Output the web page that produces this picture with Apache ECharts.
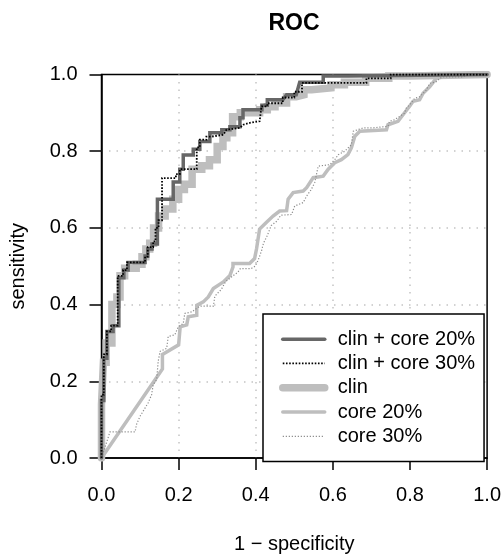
<!DOCTYPE html>
<html>
<head>
<meta charset="utf-8">
<script src="https://cdn.jsdelivr.net/npm/echarts@6/dist/echarts.min.js"></script>
<style>html,body{margin:0;padding:0;background:#fff}#c{width:504px;height:559px}</style>
</head>
<body>
<div id="c"></div>
<script>
var seriesNames = ['clin + core 20%', 'clin + core 30%', 'clin', 'core 20%', 'core 30%'];
var tickLabels = ['0.0', '0.2', '0.4', '0.6', '0.8', '1.0'];

// [1 - specificity, sensitivity] vertices
var clinCore20 = [[0,0],[0,0.15],[0.006,0.15],[0.006,0.26],[0.014,0.26],[0.014,0.33],[0.03,0.33],[0.03,0.345],[0.045,0.345],[0.045,0.47],[0.058,0.47],[0.058,0.49],[0.069,0.49],[0.069,0.51],[0.113,0.51],[0.113,0.527],[0.12,0.527],[0.12,0.545],[0.131,0.545],[0.131,0.558],[0.145,0.558],[0.145,0.675],[0.186,0.675],[0.186,0.72],[0.203,0.72],[0.203,0.753],[0.212,0.753],[0.212,0.79],[0.238,0.79],[0.238,0.805],[0.255,0.805],[0.255,0.825],[0.281,0.825],[0.281,0.848],[0.312,0.848],[0.312,0.856],[0.333,0.856],[0.333,0.864],[0.359,0.864],[0.359,0.887],[0.367,0.887],[0.367,0.908],[0.416,0.908],[0.416,0.92],[0.43,0.92],[0.43,0.934],[0.47,0.934],[0.48,0.947],[0.505,0.947],[0.514,0.98],[0.575,0.98],[0.575,0.996],[0.64,0.996],[0.64,1],[1,1]];

var clinCore30 = [[0,0],[0,0.165],[0.006,0.165],[0.006,0.27],[0.014,0.27],[0.014,0.33],[0.025,0.33],[0.025,0.345],[0.042,0.345],[0.042,0.475],[0.056,0.475],[0.056,0.49],[0.066,0.49],[0.066,0.51],[0.113,0.51],[0.113,0.525],[0.12,0.525],[0.12,0.55],[0.134,0.55],[0.134,0.565],[0.14,0.565],[0.14,0.6],[0.148,0.6],[0.148,0.62],[0.157,0.62],[0.157,0.73],[0.193,0.73],[0.193,0.74],[0.203,0.74],[0.203,0.753],[0.247,0.753],[0.247,0.81],[0.255,0.81],[0.255,0.83],[0.272,0.83],[0.272,0.838],[0.285,0.838],[0.285,0.843],[0.316,0.843],[0.324,0.856],[0.359,0.861],[0.367,0.869],[0.385,0.874],[0.41,0.878],[0.415,0.878],[0.415,0.917],[0.43,0.917],[0.43,0.925],[0.47,0.925],[0.47,0.94],[0.5,0.94],[0.5,0.955],[0.52,0.955],[0.52,0.978],[0.687,0.978],[0.687,0.99],[0.75,0.99],[0.75,1],[1,1]];

var clin = [[0,0],[0,0.14],[0.005,0.14],[0.005,0.25],[0.012,0.25],[0.012,0.3],[0.027,0.3],[0.027,0.4],[0.04,0.4],[0.04,0.42],[0.048,0.42],[0.048,0.475],[0.06,0.475],[0.06,0.495],[0.09,0.495],[0.09,0.505],[0.105,0.505],[0.105,0.525],[0.115,0.525],[0.115,0.545],[0.125,0.545],[0.125,0.56],[0.135,0.56],[0.135,0.6],[0.148,0.6],[0.148,0.631],[0.165,0.631],[0.165,0.649],[0.185,0.649],[0.185,0.675],[0.2,0.675],[0.2,0.7],[0.215,0.7],[0.215,0.714],[0.235,0.714],[0.235,0.753],[0.26,0.753],[0.26,0.762],[0.28,0.762],[0.28,0.778],[0.3,0.778],[0.3,0.812],[0.315,0.812],[0.315,0.835],[0.325,0.835],[0.325,0.848],[0.34,0.848],[0.34,0.89],[0.36,0.89],[0.36,0.9],[0.41,0.9],[0.41,0.908],[0.43,0.908],[0.43,0.916],[0.45,0.916],[0.45,0.926],[0.48,0.926],[0.48,0.942],[0.505,0.942],[0.505,0.947],[0.525,0.947],[0.525,0.96],[0.545,0.96],[0.545,0.965],[0.595,0.965],[0.595,0.973],[0.63,0.973],[0.63,0.98],[0.685,0.98],[0.685,0.99],[0.745,0.99],[0.745,0.996],[0.8,0.996],[0.8,1],[1,1]];

var core20 = [[0,0],[0.158,0.232],[0.158,0.27],[0.2,0.295],[0.204,0.342],[0.221,0.347],[0.225,0.368],[0.247,0.372],[0.247,0.398],[0.264,0.407],[0.277,0.42],[0.29,0.442],[0.316,0.459],[0.333,0.476],[0.341,0.498],[0.341,0.507],[0.384,0.507],[0.397,0.52],[0.402,0.545],[0.41,0.597],[0.428,0.615],[0.445,0.631],[0.462,0.644],[0.48,0.645],[0.484,0.675],[0.497,0.692],[0.523,0.696],[0.532,0.705],[0.549,0.731],[0.575,0.735],[0.588,0.753],[0.605,0.77],[0.622,0.778],[0.639,0.791],[0.648,0.809],[0.657,0.839],[0.67,0.852],[0.739,0.856],[0.743,0.869],[0.769,0.878],[0.782,0.895],[0.799,0.917],[0.808,0.93],[0.825,0.934],[0.834,0.951],[0.851,0.968],[0.868,0.99],[0.886,0.994],[0.9,1],[1,1]];

var core30 = [[0,0],[0.022,0.068],[0.087,0.068],[0.091,0.088],[0.1,0.109],[0.108,0.122],[0.121,0.144],[0.13,0.165],[0.134,0.191],[0.143,0.204],[0.147,0.252],[0.152,0.278],[0.169,0.286],[0.173,0.317],[0.19,0.321],[0.199,0.342],[0.212,0.351],[0.216,0.377],[0.234,0.381],[0.255,0.396],[0.29,0.396],[0.294,0.422],[0.311,0.44],[0.322,0.46],[0.337,0.472],[0.354,0.485],[0.36,0.494],[0.388,0.494],[0.398,0.5],[0.406,0.515],[0.415,0.54],[0.42,0.56],[0.43,0.58],[0.44,0.606],[0.455,0.618],[0.465,0.633],[0.493,0.635],[0.501,0.657],[0.523,0.666],[0.532,0.683],[0.544,0.7],[0.553,0.718],[0.562,0.761],[0.592,0.765],[0.605,0.778],[0.614,0.791],[0.631,0.8],[0.648,0.817],[0.653,0.852],[0.679,0.861],[0.705,0.861],[0.743,0.865],[0.747,0.878],[0.76,0.882],[0.786,0.899],[0.79,0.912],[0.803,0.925],[0.812,0.938],[0.825,0.942],[0.834,0.951],[0.842,0.959],[0.851,0.977],[0.868,0.981],[0.877,0.99],[0.886,0.994],[0.938,0.994],[0.95,1],[1,1]];

var FONT = 'Liberation Sans, Arial, sans-serif';
var styles = {
  'clin + core 20%': {color: '#676767', width: 3.5, type: 'solid', cap: 'round', z: 4},
  'clin + core 30%': {color: '#000000', width: 1.8, type: [1.6, 1.6], cap: 'butt', z: 5},
  'clin': {color: '#bebebe', width: 7.5, type: 'solid', cap: 'round', z: 1},
  'core 20%': {color: '#bebebe', width: 3.5, type: 'solid', cap: 'round', z: 2},
  'core 30%': {color: '#8c8c8c', width: 1.2, type: [1.2, 1.8], cap: 'butt', z: 3}
};
var dataByName = {
  'clin + core 20%': clinCore20,
  'clin + core 30%': clinCore30,
  'clin': clin,
  'core 20%': core20,
  'core 30%': core30
};

var chart = echarts.init(document.getElementById('c'), null, {renderer: 'canvas'});

var gridLine = {show: true, showMinLine: false, showMaxLine: false, lineStyle: {color: '#c4c4c4', width: 1.5, type: [1.5, 6]}};
var axisCommon = {
  type: 'value', min: 0, max: 1, interval: 0.2,
  axisLine: {show: true, lineStyle: {color: '#000', width: 1.5}},
  axisTick: {show: true, inside: false, length: 12, lineStyle: {color: '#000', width: 1.5}},
  splitLine: gridLine,
  nameLocation: 'middle',
  nameTextStyle: {fontFamily: FONT, fontSize: 20, color: '#000'}
};

var option = {
  backgroundColor: '#fff',
  animation: false,
  title: {
    text: 'ROC', left: 294, top: 12, textAlign: 'center', padding: 0,
    textStyle: {fontFamily: FONT, fontSize: 23, fontWeight: 'bold', color: '#000'}
  },
  grid: {left: 101.5, top: 74.5, width: 386, height: 386, show: true, borderColor: '#000', borderWidth: 1.5, backgroundColor: 'transparent', containLabel: false},
  xAxis: Object.assign({}, axisCommon, {
    name: '1 − specificity', nameGap: 76,
    axisLabel: {margin: 27, fontFamily: FONT, fontSize: 20, color: '#000', formatter: function (v) { return tickLabels[Math.round(v / 0.2)]; }}
  }),
  yAxis: Object.assign({}, axisCommon, {
    name: 'sensitivity', nameGap: 73,
    axisLabel: {margin: 24, fontFamily: FONT, fontSize: 20, color: '#000', formatter: function (v) { return tickLabels[Math.round(v / 0.2)]; }}
  }),
  legend: {
    orient: 'vertical', left: 263, top: 314,
    padding: [13, 9, 13, 16], itemGap: 0, itemWidth: 42, itemHeight: 14,
    borderColor: '#000', borderWidth: 1.5, backgroundColor: '#fff',
    textStyle: {fontFamily: FONT, fontSize: 20, color: '#000', lineHeight: 24.3, padding: [0, 0, 0, 8]},
    data: seriesNames.map(function (n) {
      var s = styles[n];
      return {
        name: n,
        itemStyle: {opacity: 0, borderWidth: 0},
        lineStyle: {color: s.color, width: s.width, type: s.type, cap: s.cap, opacity: 1}
      };
    }),
    z: 10
  },
  series: seriesNames.map(function (n) {
    var s = styles[n];
    return {
      name: n, type: 'line', data: dataByName[n], symbol: 'none', showSymbol: false,
      z: s.z, clip: true,
      lineStyle: {color: s.color, width: s.width, type: s.type, cap: s.cap, join: 'miter'},
      itemStyle: {color: s.color}
    };
  })
};
chart.setOption(option);
</script>
</body>
</html>
